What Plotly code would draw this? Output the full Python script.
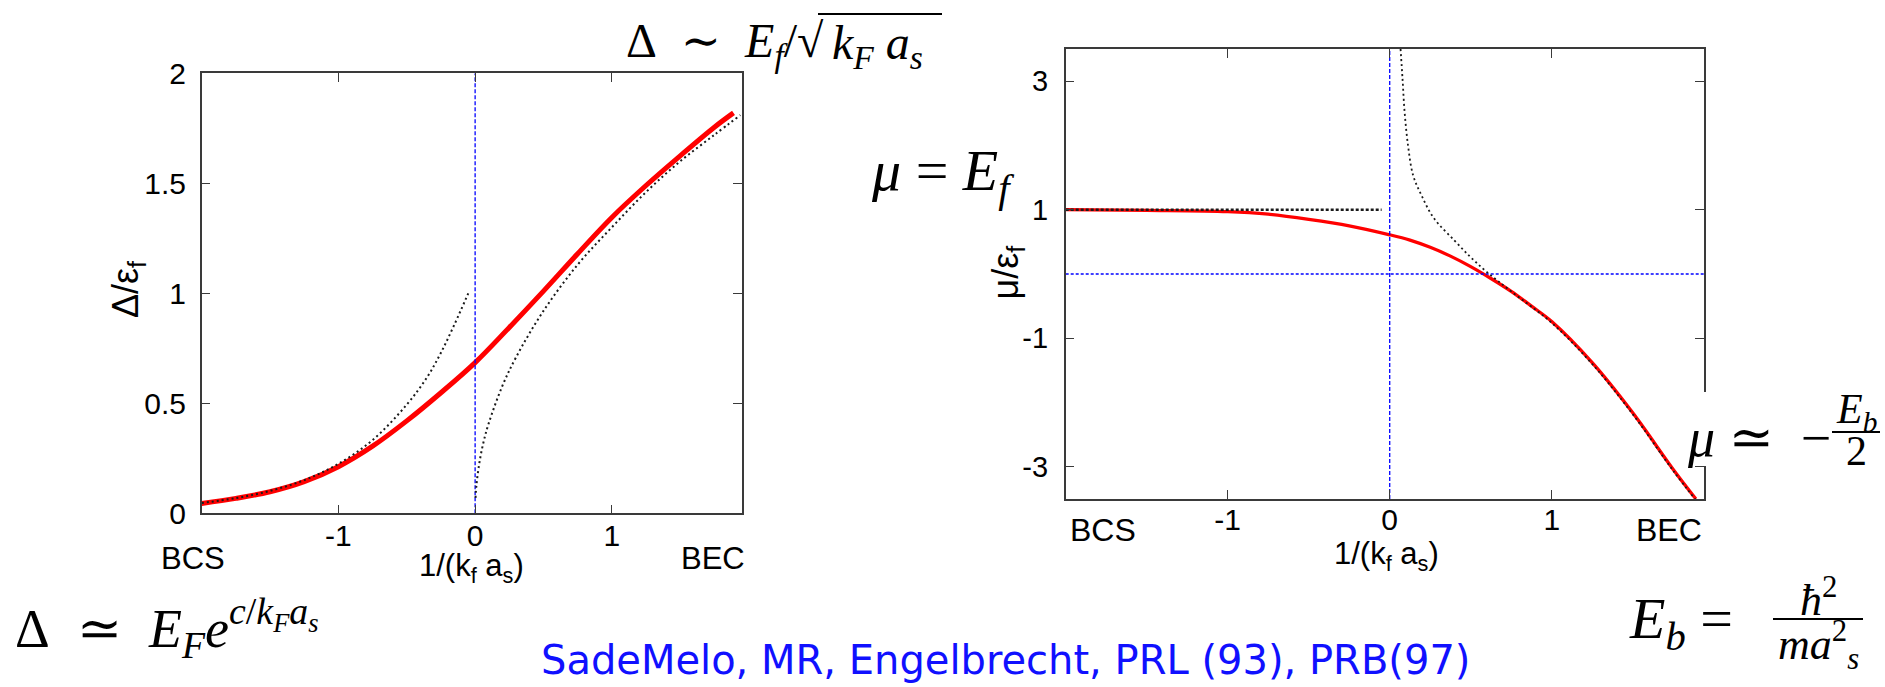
import plotly.graph_objects as go

W, H = 1885, 687


def px(x):
    return x / W


def py(y):
    return 1 - y / H


# ---------------- data ----------------
# Left panel: gap  Delta / eps_f  vs 1/(k_f a_s)
gap_x = [-2, -1.75, -1.5, -1.25, -1, -0.75, -0.5, -0.25, 0, 0.25, 0.5, 0.75, 1, 1.25, 1.5, 1.75, 1.89]
gap_y = [0.045, 0.068, 0.098, 0.144, 0.212, 0.305, 0.42, 0.548, 0.685, 0.845, 1.01, 1.18, 1.345, 1.49, 1.625, 1.755, 1.82]

gap_bcs_x = [-2, -1.75, -1.5, -1.25, -1, -0.75, -0.5, -0.35, -0.25, -0.15, -0.05]
gap_bcs_y = [0.047, 0.069, 0.102, 0.151, 0.225, 0.333, 0.494, 0.62, 0.73, 0.86, 1.0]

gap_bec_x = [0.003, 0.01, 0.03, 0.06, 0.1, 0.2, 0.3, 0.5, 0.75, 1.0, 1.25, 1.5, 1.75, 1.94]
gap_bec_y = [0.07, 0.13, 0.225, 0.32, 0.41, 0.58, 0.71, 0.92, 1.13, 1.30, 1.46, 1.60, 1.72, 1.81]

gap_vline_x = [0, 0]
gap_vline_y = [0, 2]

# Right panel: chemical potential  mu / eps_f  vs 1/(k_f a_s)
mu_x = [-2, -1.5, -1, -0.75, -0.5, -0.25, 0, 0.125, 0.25, 0.375, 0.5, 0.625, 0.75, 0.875, 1, 1.25, 1.5, 1.75, 1.89]
mu_y = [1.0, 0.99, 0.97, 0.93, 0.85, 0.75, 0.61, 0.527, 0.415, 0.278, 0.115, -0.07, -0.27, -0.50, -0.74, -1.38, -2.16, -3.04, -3.5]

mu_bcs_x = [-2, -0.05]
mu_bcs_y = [1, 1]

mu_bec_x = [0.067, 0.079, 0.092, 0.113, 0.144, 0.195, 0.272, 0.40, 0.5, 0.6, 0.75, 1.0, 1.25, 1.5, 1.75, 1.9]
mu_bec_y = [3.5, 3.04, 2.52, 2.0, 1.54, 1.23, 0.87, 0.52, 0.26, 0.03, -0.27, -0.76, -1.40, -2.18, -3.06, -3.55]

mu_vline_x = [0, 0]
mu_vline_y = [-3.5, 3.5]
mu_hline_x = [-2, 1.94]
mu_hline_y = [0, 0]

# tick labels
gap_xticks = [-1, 0, 1]
gap_xticktext = ["-1", "0", "1"]
gap_yticks = [0, 0.5, 1, 1.5, 2]
gap_yticktext = ["0", "0.5", "1", "1.5", "2"]
mu_xticks = [-1, 0, 1]
mu_xticktext = ["-1", "0", "1"]
mu_yticks = [-3, -1, 1, 3]
mu_yticktext = ["-3", "-1", "1", "3"]

# ---------------- figure ----------------
RED = "#ff0000"
DOT = "#1a1a1a"
BLUE = "#0000ff"

fig = go.Figure()

# left panel
fig.add_trace(go.Scatter(x=gap_x, y=gap_y, mode="lines", line=dict(color=RED, width=5, shape="spline"),
                         xaxis="x", yaxis="y", hoverinfo="skip"))
fig.add_trace(go.Scatter(x=gap_vline_x, y=gap_vline_y, mode="lines", line=dict(color=BLUE, width=1.3, dash="4px,2px"),
                         xaxis="x", yaxis="y", hoverinfo="skip"))
fig.add_trace(go.Scatter(x=gap_bcs_x, y=gap_bcs_y, mode="lines", line=dict(color=DOT, width=2, dash="2px,3px", shape="spline"),
                         xaxis="x", yaxis="y", hoverinfo="skip"))
fig.add_trace(go.Scatter(x=gap_bec_x, y=gap_bec_y, mode="lines", line=dict(color=DOT, width=2, dash="2px,3px", shape="spline"),
                         xaxis="x", yaxis="y", hoverinfo="skip"))

# right panel
fig.add_trace(go.Scatter(x=mu_x, y=mu_y, mode="lines", line=dict(color=RED, width=3.3, shape="spline"),
                         xaxis="x2", yaxis="y2", hoverinfo="skip"))
fig.add_trace(go.Scatter(x=mu_vline_x, y=mu_vline_y, mode="lines", line=dict(color=BLUE, width=1.3, dash="4px,2px"),
                         xaxis="x2", yaxis="y2", hoverinfo="skip"))
fig.add_trace(go.Scatter(x=mu_hline_x, y=mu_hline_y, mode="lines", line=dict(color=BLUE, width=1.3, dash="3px,2px"),
                         xaxis="x2", yaxis="y2", hoverinfo="skip"))
fig.add_trace(go.Scatter(x=mu_bcs_x, y=mu_bcs_y, mode="lines", line=dict(color=DOT, width=2.5, dash="3px,2px"),
                         xaxis="x2", yaxis="y2", hoverinfo="skip"))
fig.add_trace(go.Scatter(x=mu_bec_x, y=mu_bec_y, mode="lines", line=dict(color=DOT, width=1.8, dash="2px,3px", shape="spline"),
                         xaxis="x2", yaxis="y2", hoverinfo="skip"))

SANS = "Liberation Sans, Arial, sans-serif"
SERIF = "Liberation Serif, DejaVu Serif, serif"

axis_common = dict(showline=True, linecolor="#3a3a3a", linewidth=1.5, mirror="ticks",
                   ticks="inside", ticklen=9, tickwidth=1.3, tickcolor="#3a3a3a",
                   showgrid=False, zeroline=False, tickmode="array", automargin=False,
                   tickfont=dict(family=SANS, size=30, color="black"))

fig.update_layout(
    template="none",
    width=W, height=H, margin=dict(l=0, r=0, t=0, b=0, pad=0), autosize=False,
    paper_bgcolor="white", plot_bgcolor="white", showlegend=False,
    xaxis=dict(domain=[px(201.7), px(741.7)], range=[-2, 1.95], anchor="y",
               tickvals=gap_xticks, ticktext=gap_xticktext, ticklabelstandoff=-5, **axis_common),
    yaxis=dict(domain=[py(513.3), py(73.3)], range=[0, 2], anchor="x",
               tickvals=gap_yticks, ticktext=gap_yticktext, ticklabelstandoff=8, **axis_common),
    xaxis2=dict(domain=[px(1065.7), px(1704)], range=[-2, 1.94], anchor="y2",
                tickvals=mu_xticks, ticktext=mu_xticktext, ticklabelstandoff=-7, **axis_common),
    yaxis2=dict(domain=[py(499), py(49)], range=[-3.5, 3.5], anchor="x2",
                tickvals=mu_yticks, ticktext=mu_yticktext, ticklabelstandoff=10, **axis_common),
)
fig.layout.yaxis2.tickfont.size = 29


def ann(x, y, text, size, family=SANS, color="black", xanchor="center", yanchor="middle", **kw):
    fig.add_annotation(x=px(x), y=py(y), xref="paper", yref="paper", text=text, showarrow=False,
                       xanchor=xanchor, yanchor=yanchor, font=dict(family=family, size=size, color=color), **kw)


# axis titles & regime labels
ann(127.5, 289.5, "Δ/ε<sub>f</sub>", 36, textangle=-90)
ann(1007.6, 272, "μ/ε<sub>f</sub>", 36, textangle=-90)
ann(472, 568, "1/(k<sub>f</sub> a<sub>s</sub>)", 31)
ann(1386, 556, "1/(k<sub>f</sub> a<sub>s</sub>)", 31)
ann(193, 558, "BCS", 31)
ann(712.7, 558, "BEC", 31)
ann(1103, 530, "BCS", 32)
ann(1669, 530, "BEC", 32)

# formulas
ann(826, 44, "Δ&nbsp;&nbsp;∼&nbsp;&nbsp;<i>E</i><sub><i>f</i></sub>/√", 48, family=SERIF, xanchor="right")
ann(830, 46, "<i>k</i><sub><i>F</i></sub>&nbsp;<i>a</i><sub><i>s</i></sub>", 48, family=SERIF, xanchor="left")
ann(13, 628, "Δ&nbsp;&nbsp;≃&nbsp;&nbsp;<i>E</i><sub><i>F</i></sub><i>e</i><sup><i>c</i>/<i>k</i><sub><i>F</i></sub><i>a</i><sub><i>s</i></sub></sup>", 54,
    family=SERIF, xanchor="left")
ann(943, 175, "<i>μ</i> = <i>E</i><sub><i>f</i></sub>", 58, family=SERIF)

ann(1685, 438, "<i>μ</i>&nbsp;≃&nbsp;&nbsp;−", 54, family=SERIF, xanchor="left")
ann(1856, 412, "<i>E</i><sub><i>b</i></sub>", 42, family=SERIF)
ann(1856, 451, "2", 42, family=SERIF)

ann(1627, 622, "<i>E</i><sub><i>b</i></sub> =", 58, family=SERIF, xanchor="left")
ann(1818, 597, "<i>ħ</i><sup>2</sup>", 44, family=SERIF)
ann(1818, 645, "<i>ma</i><sup>2</sup><sub><i>s</i></sub>", 44, family=SERIF)

ann(1005, 660, "SadeMelo, MR, Engelbrecht, PRL (93), PRB(97)", 40, family="DejaVu Sans, sans-serif", color="#1010ff")

# white patch behind mu ~ -E_b/2 (hides part of the frame as in the original), then fraction bars / overline
fig.add_shape(type="rect", xref="paper", yref="paper", x0=px(1684), x1=px(1885), y0=py(466), y1=py(392),
              fillcolor="white", line=dict(width=0), layer="above")
fig.add_shape(type="line", xref="paper", yref="paper", x0=px(1832), x1=px(1880), y0=py(432), y1=py(432),
              line=dict(color="black", width=2), layer="above")
fig.add_shape(type="line", xref="paper", yref="paper", x0=px(1773), x1=px(1863), y0=py(619), y1=py(619),
              line=dict(color="black", width=2), layer="above")
fig.add_shape(type="line", xref="paper", yref="paper", x0=px(818), x1=px(942), y0=py(14), y1=py(14),
              line=dict(color="black", width=2), layer="above")

fig.write_html("out.html", config={"displayModeBar": False},
               post_script="document.body.style.margin='0';")
